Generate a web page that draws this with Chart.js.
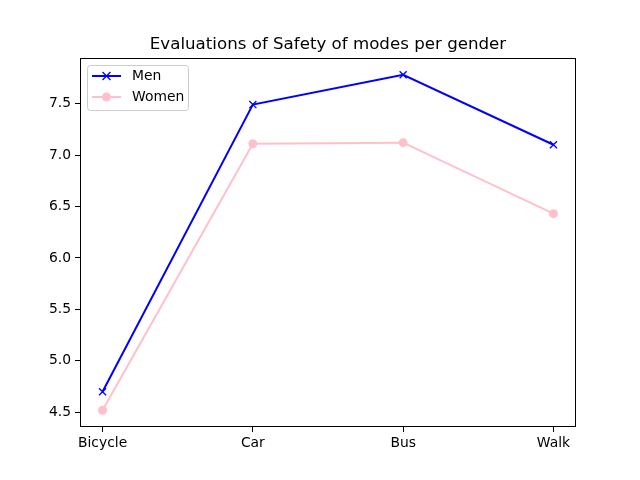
<!DOCTYPE html>
<html>
<head>
<meta charset="utf-8">
<script src="https://cdn.jsdelivr.net/npm/chart.js@4/dist/chart.umd.min.js"></script>
<style>
  html, body { margin: 0; padding: 0; background: #fff; }
  canvas { display: block; }
</style>
</head>
<body>
<canvas id="chart" width="640" height="480"></canvas>
<script>
const modes = ['Bicycle', 'Car', 'Bus', 'Walk'];
const menScores = [4.70, 7.49, 7.78, 7.10];
const womenScores = [4.52, 7.11, 7.12, 6.43];
const yTicks = [4.5, 5.0, 5.5, 6.0, 6.5, 7.0, 7.5];

const FONT = 'DejaVu Sans';
const TICK_PX = 13.89;

// matplotlib-style frame, title and in-axes legend
const frameAndLegend = {
    id: 'frameAndLegend',
    afterDraw(chart) {
        const { ctx, chartArea: a } = chart;
        ctx.save();
        ctx.strokeStyle = '#000';
        ctx.lineWidth = 1;
        ctx.strokeRect(a.left + 0.5, a.top + 0.5, a.right - a.left - 1, a.bottom - a.top - 1);

        ctx.fillStyle = '#000';
        ctx.font = '16.67px ' + FONT;
        ctx.textAlign = 'center';
        ctx.textBaseline = 'alphabetic';
        ctx.fillText('Evaluations of Safety of modes per gender', (a.left + a.right) / 2, 49);

        // legend box
        const bx = 87.5, by = 65.5, bw = 101, bh = 45, r = 3;
        ctx.beginPath();
        ctx.moveTo(bx + r, by);
        ctx.arcTo(bx + bw, by, bx + bw, by + bh, r);
        ctx.arcTo(bx + bw, by + bh, bx, by + bh, r);
        ctx.arcTo(bx, by + bh, bx, by, r);
        ctx.arcTo(bx, by, bx + bw, by, r);
        ctx.closePath();
        ctx.fillStyle = 'rgba(255,255,255,0.8)';
        ctx.fill();
        ctx.strokeStyle = '#cccccc';
        ctx.stroke();

        const rows = [
            { label: 'Men', color: '#0000ff', y: 76, marker: 'x' },
            { label: 'Women', color: '#ffc0cb', y: 97, marker: 'o' }
        ];
        rows.forEach(row => {
            ctx.strokeStyle = row.color;
            ctx.lineWidth = 2;
            ctx.beginPath();
            ctx.moveTo(92, row.y);
            ctx.lineTo(121, row.y);
            ctx.stroke();
            const cx = 106.5;
            if (row.marker === 'x') {
                ctx.lineWidth = 1.3;
                ctx.beginPath();
                ctx.moveTo(cx - 4, row.y - 4); ctx.lineTo(cx + 4, row.y + 4);
                ctx.moveTo(cx - 4, row.y + 4); ctx.lineTo(cx + 4, row.y - 4);
                ctx.stroke();
            } else {
                ctx.fillStyle = row.color;
                ctx.beginPath();
                ctx.arc(cx, row.y, 4.5, 0, Math.PI * 2);
                ctx.fill();
            }
            ctx.fillStyle = '#000';
            ctx.font = TICK_PX + 'px ' + FONT;
            ctx.textAlign = 'left';
            ctx.textBaseline = 'middle';
            ctx.fillText(row.label, 132, row.y + 0.5);
        });
        ctx.restore();
    }
};

const toPoints = vals => vals.map((v, i) => ({ x: i, y: v }));

new Chart(document.getElementById('chart'), {
    type: 'line',
    data: {
        datasets: [{
            label: 'Men',
            data: toPoints(menScores),
            borderColor: '#0000ff',
            backgroundColor: '#0000ff',
            borderWidth: 2,
            pointStyle: 'crossRot',
            pointRadius: 5,
            pointBorderWidth: 1.3,
            tension: 0
        }, {
            label: 'Women',
            data: toPoints(womenScores),
            borderColor: '#ffc0cb',
            backgroundColor: '#ffc0cb',
            borderWidth: 2,
            pointStyle: 'circle',
            pointRadius: 4.5,
            pointBorderWidth: 0,
            tension: 0
        }]
    },
    options: {
        responsive: false,
        animation: false,
        layout: { padding: { top: 58, right: 64, left: 0, bottom: 0 } },
        plugins: {
            legend: { display: false },
            title: { display: false },
            tooltip: { enabled: false }
        },
        scales: {
            x: {
                type: 'linear',
                min: -0.15,
                max: 3.15,
                afterBuildTicks: s => { s.ticks = modes.map((m, i) => ({ value: i })); },
                afterFit: s => { s.height = 53; },
                ticks: {
                    color: '#000',
                    font: { family: FONT, size: TICK_PX },
                    padding: 3,
                    maxRotation: 0,
                    callback: v => modes[v]
                },
                grid: { drawOnChartArea: false, drawTicks: true, tickLength: 5, color: '#000' },
                border: { display: false }
            },
            y: {
                min: 4.357,
                max: 7.943,
                afterBuildTicks: s => { s.ticks = yTicks.map(v => ({ value: v })); },
                afterFit: s => { s.width = 80; },
                ticks: {
                    color: '#000',
                    font: { family: FONT, size: TICK_PX },
                    padding: 4,
                    callback: v => v.toFixed(1)
                },
                grid: { drawOnChartArea: false, drawTicks: true, tickLength: 5, color: '#000' },
                border: { display: false }
            }
        }
    },
    plugins: [frameAndLegend]
});
</script>
</body>
</html>
